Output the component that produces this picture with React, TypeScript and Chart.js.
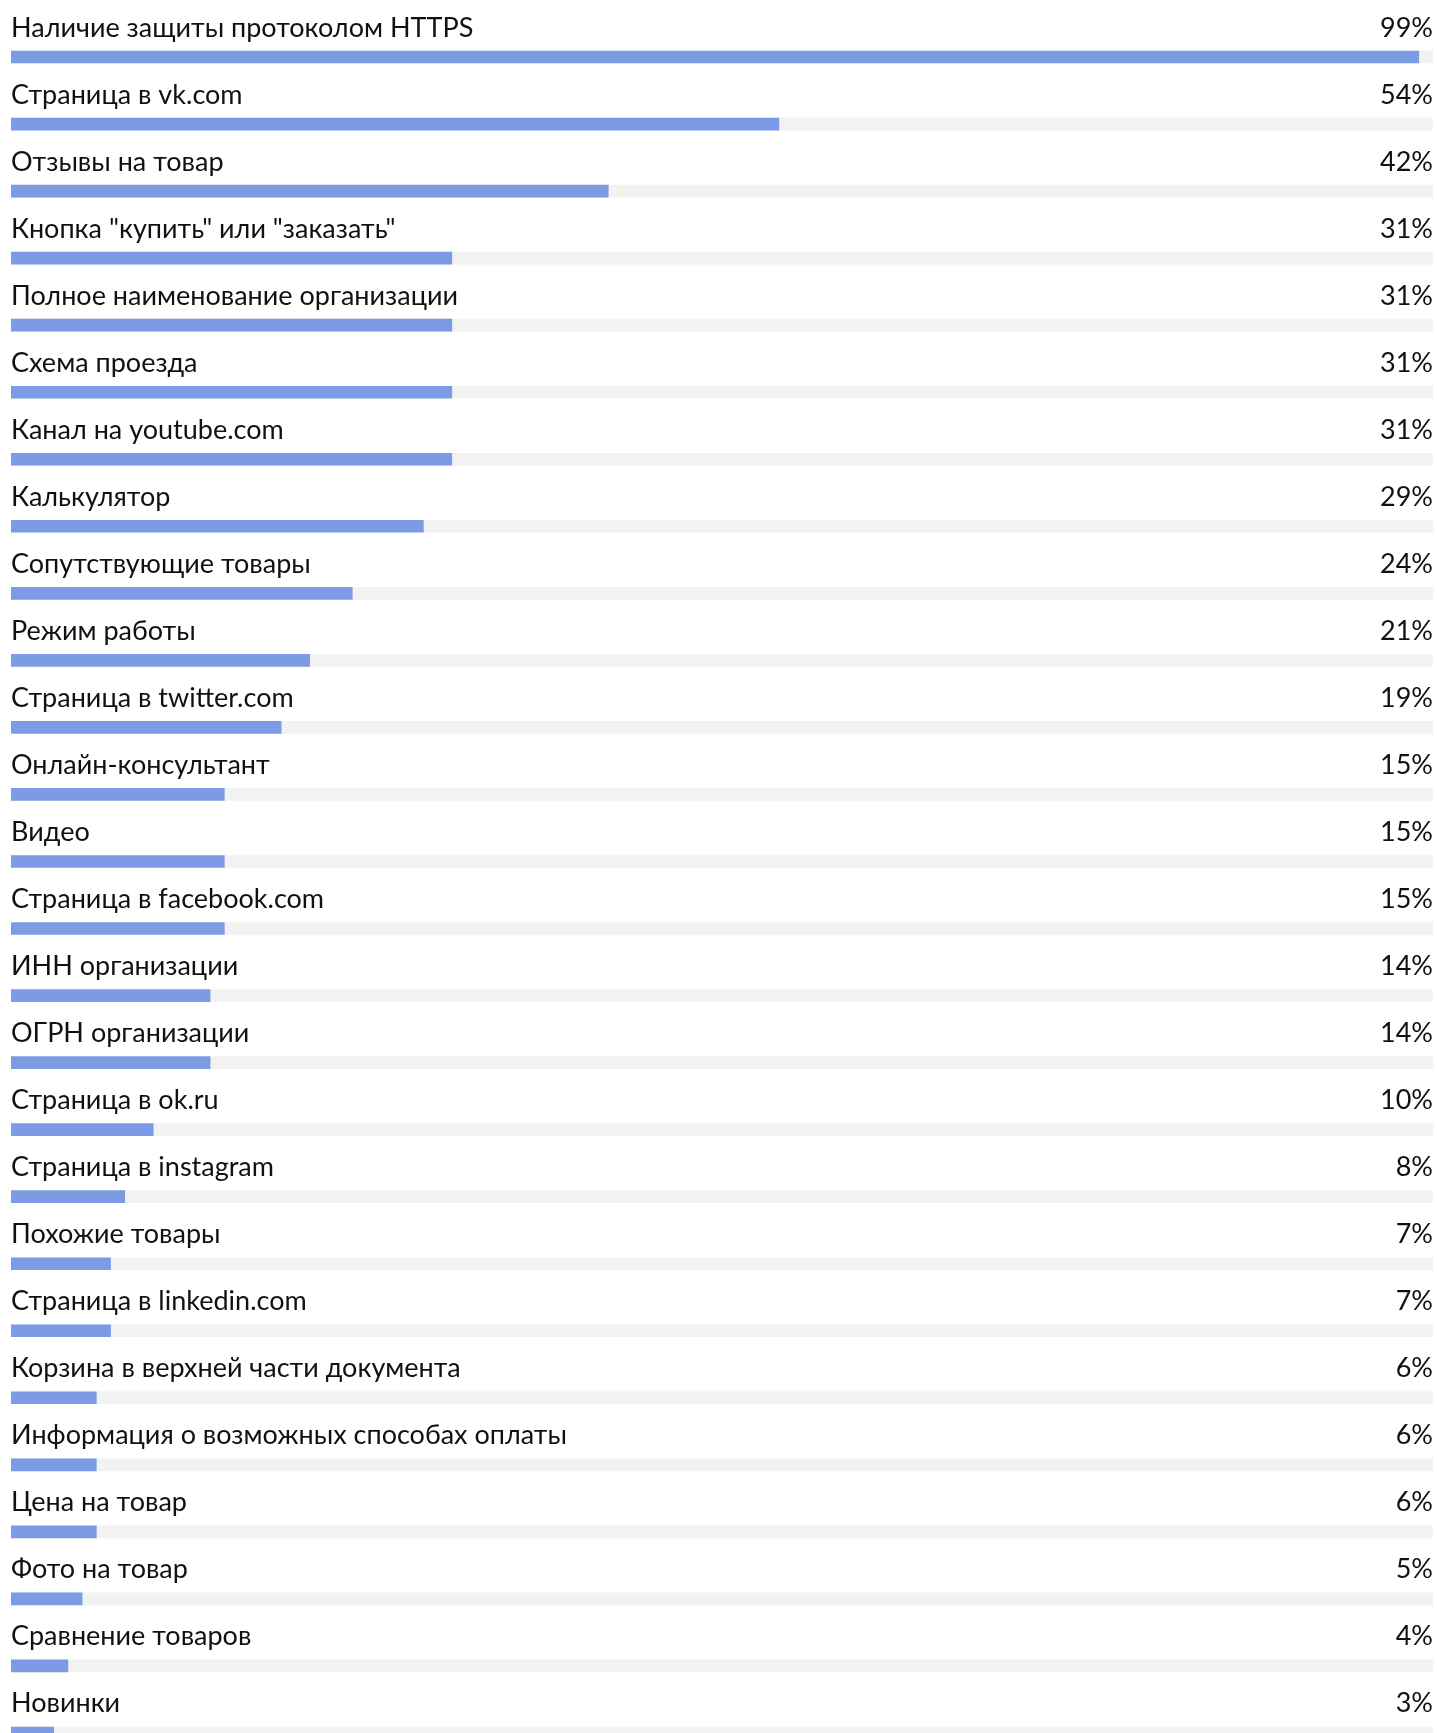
import React, { useEffect, useRef } from "react";
import { Chart, registerables } from "chart.js";

Chart.register(...registerables);

const categories: string[] = [
  "Наличие защиты протоколом HTTPS",
  "Страница в vk.com",
  "Отзывы на товар",
  "Кнопка \"купить\" или \"заказать\"",
  "Полное наименование организации",
  "Схема проезда",
  "Канал на youtube.com",
  "Калькулятор",
  "Сопутствующие товары",
  "Режим работы",
  "Страница в twitter.com",
  "Онлайн-консультант",
  "Видео",
  "Страница в facebook.com",
  "ИНН организации",
  "ОГРН организации",
  "Страница в ok.ru",
  "Страница в instagram",
  "Похожие товары",
  "Страница в linkedin.com",
  "Корзина в верхней части документа",
  "Информация о возможных способах оплаты",
  "Цена на товар",
  "Фото на товар",
  "Сравнение товаров",
  "Новинки",
];

const values: number[] = [99, 54, 42, 31, 31, 31, 31, 29, 24, 21, 19, 15, 15, 15, 14, 14, 10, 8, 7, 7, 6, 6, 6, 5, 4, 3];

const trackValues: number[] = categories.map(() => 100);

const labelPlugin = {
  id: "rowLabels",
  afterDatasetsDraw(chart: any) {
    const ctx = chart.ctx;
    const meta = chart.getDatasetMeta(1);
    const area = chart.chartArea;
    ctx.save();
    ctx.fillStyle = "#111111";
    ctx.font = "27px Lato";
    ctx.textBaseline = "alphabetic";
    meta.data.forEach((el: any, i: number) => {
      const h = el.height;
      const y = el.y - h / 2 - 14.5;
      ctx.textAlign = "left";
      ctx.fillText(categories[i], area.left, y);
      ctx.textAlign = "right";
      ctx.fillText(values[i] + "%", area.right, y);
    });
    ctx.restore();
  },
};

export default function App() {
  const ref = useRef<HTMLCanvasElement | null>(null);

  useEffect(() => {
    if (!ref.current) return;
    const chart = new Chart(ref.current, {
      type: "bar",
      data: {
        labels: categories,
        datasets: [
          {
            data: trackValues,
            backgroundColor: "#f2f2f2",
            barThickness: 12,
            grouped: false,
            order: 2,
          },
          {
            data: values,
            backgroundColor: "#7b9ce4",
            barThickness: 12,
            grouped: false,
            order: 1,
          },
        ],
      },
      options: {
        indexAxis: "y",
        responsive: false,
        animation: false,
        layout: { padding: { left: 11, right: 4, top: 23.5, bottom: 3.5 } },
        plugins: { legend: { display: false }, tooltip: { enabled: false } },
        scales: {
          x: { display: false, min: 0, max: 100 },
          y: { display: false, offset: true },
        },
      },
      plugins: [labelPlugin],
    });
    return () => chart.destroy();
  }, []);

  return (
    <div style={{ position: "absolute", left: 0, top: 0, width: 1437, height: 1733, overflow: "hidden", background: "#fff" }}>
      <canvas ref={ref} width={1437} height={1770} style={{ width: 1437, height: 1770, display: "block" }} />
    </div>
  );
}
